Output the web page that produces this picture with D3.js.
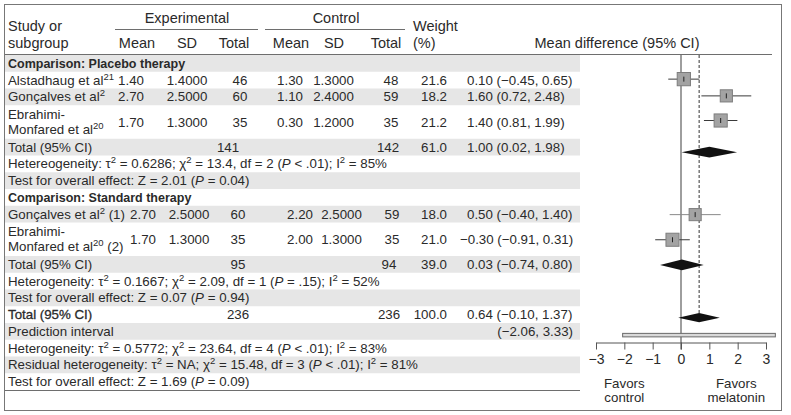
<!DOCTYPE html>
<html lang="en">
<head>
  <meta charset="UTF-8" />
  <title>Forest plot</title>
  <script src="https://d3js.org/d3.v7.min.js"></script>
  <style>
    html, body { margin: 0; padding: 0; background: #fff; }
    svg { display: block; font-family: "Liberation Sans", Arial, sans-serif; font-size: 13.3px; }
    text { fill: #2a2a2a; }
    .band { fill: #e6e6e6; }
    .rule { stroke: #6e6e6e; stroke-width: 1; }
    .bold { font-weight: bold; font-size: 12.5px; }
    .semi { stroke: #2a2a2a; stroke-width: 0.3px; }
    .head { font-size: 14.5px; }
  </style>
</head>
<body>
  <svg id="chart" width="791" height="415"></svg>

  <script>
    // ---- data ----
    const groupTitles = ['Comparison: Placebo therapy', 'Comparison: Standard therapy'];
    const studyNames  = ['Alstadhaug et al^{21}', 'Gonçalves et al^{2}', 'Ebrahimi-|Monfared et al^{20}',
                         'Gonçalves et al^{2} (1)', 'Ebrahimi-|Monfared et al^{20} (2)'];
    const studyGroup  = [0, 0, 0, 1, 1];
    const expMean     = [1.40, 2.70, 1.70, 2.70, 1.70];
    const expSD       = [1.4, 2.5, 1.3, 2.5, 1.3];
    const expN        = [46, 60, 35, 60, 35];
    const ctlMean     = [1.30, 1.10, 0.30, 2.20, 2.00];
    const ctlSD       = [1.3, 2.4, 1.2, 2.5, 1.3];
    const ctlN        = [48, 59, 35, 59, 35];
    const weights     = [21.6, 18.2, 21.2, 18.0, 21.0];
    const md          = [0.10, 1.60, 1.40, 0.50, -0.30];
    const ciLo        = [-0.45, 0.72, 0.81, -0.40, -0.91];
    const ciHi        = [0.65, 2.48, 1.99, 1.40, 0.31];

    // pooled: subgroup 1, subgroup 2, overall
    const pooledExpN   = [141, 95, 236];
    const pooledCtlN   = [142, 94, 236];
    const pooledWeight = [61.0, 39.0, 100.0];
    const pooledMD     = [1.00, 0.03, 0.64];
    const pooledLo     = [0.02, -0.74, -0.10];
    const pooledHi     = [1.98, 0.80, 1.37];
    const predInterval = [-2.06, 3.33];

    const groupStats = [
      ['Hetereogeneity: τ^{2} = 0.6286; χ^{2} = 13.4, df = 2 (*P* < .01); I^{2} = 85%',
       'Test for overall effect: Z = 2.01 (*P* = 0.04)'],
      ['Heterogeneity: τ^{2} = 0.1667; χ^{2} = 2.09, df = 1 (*P* = .15); I^{2} = 52%',
       'Test for overall effect: Z = 0.07 (*P* = 0.94)']
    ];
    const overallStats = [
      'Heterogeneity: τ^{2} = 0.5772; χ^{2} = 23.64, df = 4 (*P* < .01); I^{2} = 83%',
      'Residual heterogeneity: τ^{2} = NA; χ^{2} = 15.48, df = 3 (*P* < .01); I^{2} = 81%',
      'Test for overall effect: Z = 1.69 (*P* = 0.09)'
    ];
    const xTicks = [-3, -2, -1, 0, 1, 2, 3];

    // ---- layout ----
    const svg = d3.select('#chart');
    const f2 = d3.format('.2f'), f4 = d3.format('.4f'), f1 = d3.format('.1f');
    const colX = [
      { expMean: 131, expSD: 187, expN: 240, ctlMean: 290, ctlSD: 333.5, ctlN: 391 },
      { expMean: 143, expSD: 189, expN: 238, ctlMean: 300, ctlSD: 341.5, ctlN: 392 }
    ];
    const pooledExpX = [228, 238, 238], pooledCtlX = [388, 389, 389];
    const weightX = 447, mdX = 467, bandRight = 580;
    const studyNudge = [-1, -1, -1.5, 0.5, 0.5], pooledNudge = [5, 0.5, 3];
    const ciColor = ['#3a3a3a', '#3a3a3a', '#3a3a3a', '#8a8a8a', '#3a3a3a'];

    // build the table rows
    const rows = [];
    groupTitles.forEach((t, g) => {
      rows.push({ kind: 'title', text: t, units: 1 });
      studyNames.forEach((n, i) => {
        if (studyGroup[i] === g) rows.push({ kind: 'study', i, units: n.includes('|') ? 2 : 1 });
      });
      rows.push({ kind: 'pooled', p: g, units: 1 });
      groupStats[g].forEach(s => rows.push({ kind: 'stat', text: s, units: 1 }));
    });
    rows.push({ kind: 'pooled', p: 2, units: 1 });
    rows.push({ kind: 'pred', units: 1 });
    overallStats.forEach(s => rows.push({ kind: 'stat', text: s, units: 1 }));

    let acc = 0;
    rows.forEach(r => { r.u0 = acc; acc += r.units; });
    const y = d3.scaleLinear().domain([0, acc]).range([55, 390]);
    const x = d3.scaleLinear().domain([-3, 3]).range([596, 766]);
    rows.forEach(r => { r.top = y(r.u0); r.h = y(r.u0 + r.units) - r.top; r.cy = r.top + r.h / 2; });

    // light markup: ^{..} superscript, *..* italic
    function rich(sel, str) {
      const parts = str.split(/(\^\{[^}]*\}|\*[^*]*\*)/).filter(s => s.length);
      let raised = false;
      parts.forEach(p => {
        const t = sel.append('tspan');
        if (p.startsWith('^{')) {
          t.text(p.slice(2, -1)).attr('font-size', 9.5).attr('dy', -5);
          raised = true;
        } else {
          if (raised) { t.attr('dy', 5); raised = false; }
          if (p.startsWith('*')) t.text(p.slice(1, -1)).attr('font-style', 'italic');
          else t.text(p);
        }
      });
      return sel;
    }
    function txt(xp, yp, str, anchor, cls) {
      const t = svg.append('text').attr('x', xp).attr('y', yp).attr('text-anchor', anchor || 'start');
      if (cls) t.attr('class', cls);
      return rich(t, str);
    }
    function mdText(v, lo, hi) { return `${f2(v)} (${f2(lo)}, ${f2(hi)})`; }
    function mdStart(v) { return v < 0 ? mdX - 7 : mdX; }

    // shaded bands
    svg.append('g').selectAll('rect').data(rows.filter((r, k) => k % 2 === 0)).join('rect')
      .attr('class', 'band').attr('x', 5).attr('y', d => d.top).attr('width', bandRight - 5).attr('height', d => d.h);

    // frame and rules
    svg.append('rect').attr('x', 4.5).attr('y', 4.5).attr('width', 777).attr('height', 406)
      .attr('fill', 'none').attr('stroke', '#777');
    svg.append('line').attr('class', 'rule').attr('x1', 5).attr('x2', 772).attr('y1', 54.5).attr('y2', 54.5);
    svg.append('line').attr('class', 'rule').attr('x1', 5).attr('x2', bandRight).attr('y1', 390.5).attr('y2', 390.5);
    svg.append('line').attr('class', 'rule').attr('x1', 115).attr('x2', 258).attr('y1', 29.5).attr('y2', 29.5);
    svg.append('line').attr('class', 'rule').attr('x1', 265).attr('x2', 405).attr('y1', 29.5).attr('y2', 29.5);

    // header
    txt(8, 31, 'Study or', 'start', 'head'); txt(8, 48, 'subgroup', 'start', 'head');
    txt(187, 22.5, 'Experimental', 'middle', 'head'); txt(336, 22.5, 'Control', 'middle', 'head');
    txt(137, 48, 'Mean', 'middle', 'head'); txt(187, 48, 'SD', 'middle', 'head'); txt(234, 48, 'Total', 'middle', 'head');
    txt(291, 48, 'Mean', 'middle', 'head'); txt(334, 48, 'SD', 'middle', 'head'); txt(386, 48, 'Total', 'middle', 'head');
    txt(413, 30.5, 'Weight', 'start', 'head'); txt(413, 48, '(%)', 'start', 'head');
    txt(617, 48, 'Mean difference (95% CI)', 'middle', 'head');

    // table text
    rows.forEach(r => {
      const base = r.cy + 4.6;
      if (r.kind === 'title') txt(8, base, r.text, 'start', 'bold');
      if (r.kind === 'stat') txt(8, base, r.text);
      if (r.kind === 'study') {
        const i = r.i, c = colX[studyGroup[i]];
        const lines = studyNames[i].split('|');
        lines.forEach((l, k) => txt(8, base + (k - (lines.length - 1) / 2) * 15, l));
        txt(c.expMean, base, f2(expMean[i]), 'middle');
        txt(c.expSD, base, f4(expSD[i]), 'middle');
        txt(c.expN, base, String(expN[i]), 'middle');
        txt(c.ctlMean, base, f2(ctlMean[i]), 'middle');
        txt(c.ctlSD, base, f4(ctlSD[i]), 'middle');
        txt(c.ctlN, base, String(ctlN[i]), 'middle');
        txt(weightX, base, f1(weights[i]), 'end');
        txt(mdStart(md[i]), base, mdText(md[i], ciLo[i], ciHi[i]));
      }
      if (r.kind === 'pooled') {
        const p = r.p;
        txt(8, base, 'Total (95% CI)', 'start', p === 2 ? 'semi' : null);
        txt(pooledExpX[p], base, String(pooledExpN[p]), 'middle');
        txt(pooledCtlX[p], base, String(pooledCtlN[p]), 'middle');
        txt(weightX, base, f1(pooledWeight[p]), 'end');
        txt(mdStart(pooledMD[p]), base, mdText(pooledMD[p], pooledLo[p], pooledHi[p]));
      }
      if (r.kind === 'pred') {
        txt(8, base, 'Prediction interval');
        txt(573, base, `(${f2(predInterval[0])}, ${f2(predInterval[1])})`, 'end');
      }
    });

    // ---- forest panel ----
    const plot = svg.append('g');
    const studyRows = rows.filter(r => r.kind === 'study');
    const pooledRows = rows.filter(r => r.kind === 'pooled');
    const predRow = rows.find(r => r.kind === 'pred');
    const axisY = 342.5;

    plot.append('line').attr('x1', x(0)).attr('x2', x(0)).attr('y1', 55).attr('y2', axisY + 7)
      .attr('stroke', '#6a6a6a').attr('stroke-width', 1.3);
    const overallRow = pooledRows[2];
    plot.append('line').attr('x1', x(pooledMD[2])).attr('x2', x(pooledMD[2]))
      .attr('y1', 55).attr('y2', overallRow.cy + pooledNudge[2] - 4)
      .attr('stroke', '#333').attr('stroke-dasharray', '3,2');

    // study CIs and boxes
    const sq = d => 2.85 * Math.sqrt(weights[d.i]);
    const sy = d => d.cy + studyNudge[d.i];
    plot.selectAll('.ci').data(studyRows).join('line').attr('class', 'ci')
      .attr('x1', d => x(ciLo[d.i])).attr('x2', d => x(ciHi[d.i]))
      .attr('y1', sy).attr('y2', sy).attr('stroke', d => ciColor[d.i]).attr('stroke-width', 1);
    plot.selectAll('.box').data(studyRows).join('rect').attr('class', 'box')
      .attr('x', d => x(md[d.i]) - sq(d) / 2).attr('y', d => sy(d) - sq(d) / 2)
      .attr('width', sq).attr('height', sq)
      .attr('fill', '#a3a3a3').attr('stroke', '#7d7d7d').attr('stroke-width', 1);
    plot.selectAll('.est').data(studyRows).join('line').attr('class', 'est')
      .attr('x1', d => x(md[d.i])).attr('x2', d => x(md[d.i]))
      .attr('y1', d => sy(d) - 2.5).attr('y2', d => sy(d) + 2.5).attr('stroke', '#222');

    // pooled diamonds
    plot.selectAll('.diamond').data(pooledRows).join('path').attr('class', 'diamond')
      .attr('d', d => {
        const p = d.p, cy = d.cy + pooledNudge[p], hh = p === 2 ? 4.6 : 5.3;
        return `M${x(pooledLo[p])},${cy}L${x(pooledMD[p])},${cy - hh}L${x(pooledHi[p])},${cy}L${x(pooledMD[p])},${cy + hh}Z`;
      })
      .attr('fill', '#111');

    // prediction interval bar
    plot.append('rect').attr('x', x(predInterval[0])).attr('y', predRow.cy + 2)
      .attr('width', x(predInterval[1]) - x(predInterval[0])).attr('height', 3.5)
      .attr('fill', '#d9d9d9').attr('stroke', '#6a6a6a').attr('stroke-width', 1);

    // axis
    const axis = d3.axisBottom(x).tickValues(xTicks).tickSize(7).tickSizeOuter(0)
      .tickFormat(d => d3.format('d')(d));
    const ag = plot.append('g').attr('transform', `translate(0,${axisY})`).call(axis);
    ag.select('.domain').attr('stroke', '#555');
    ag.selectAll('.tick line').attr('stroke', '#555');
    ag.selectAll('.tick text').attr('font-size', 14).attr('font-family', 'inherit')
      .attr('fill', '#2a2a2a').attr('dy', '0.85em');

    txt(x(-2), 387.5, 'Favors', 'middle'); txt(x(-2), 401.5, 'control', 'middle');
    txt(x(1.95), 387.5, 'Favors', 'middle'); txt(x(1.95), 401.5, 'melatonin', 'middle');
  </script>
</body>
</html>
